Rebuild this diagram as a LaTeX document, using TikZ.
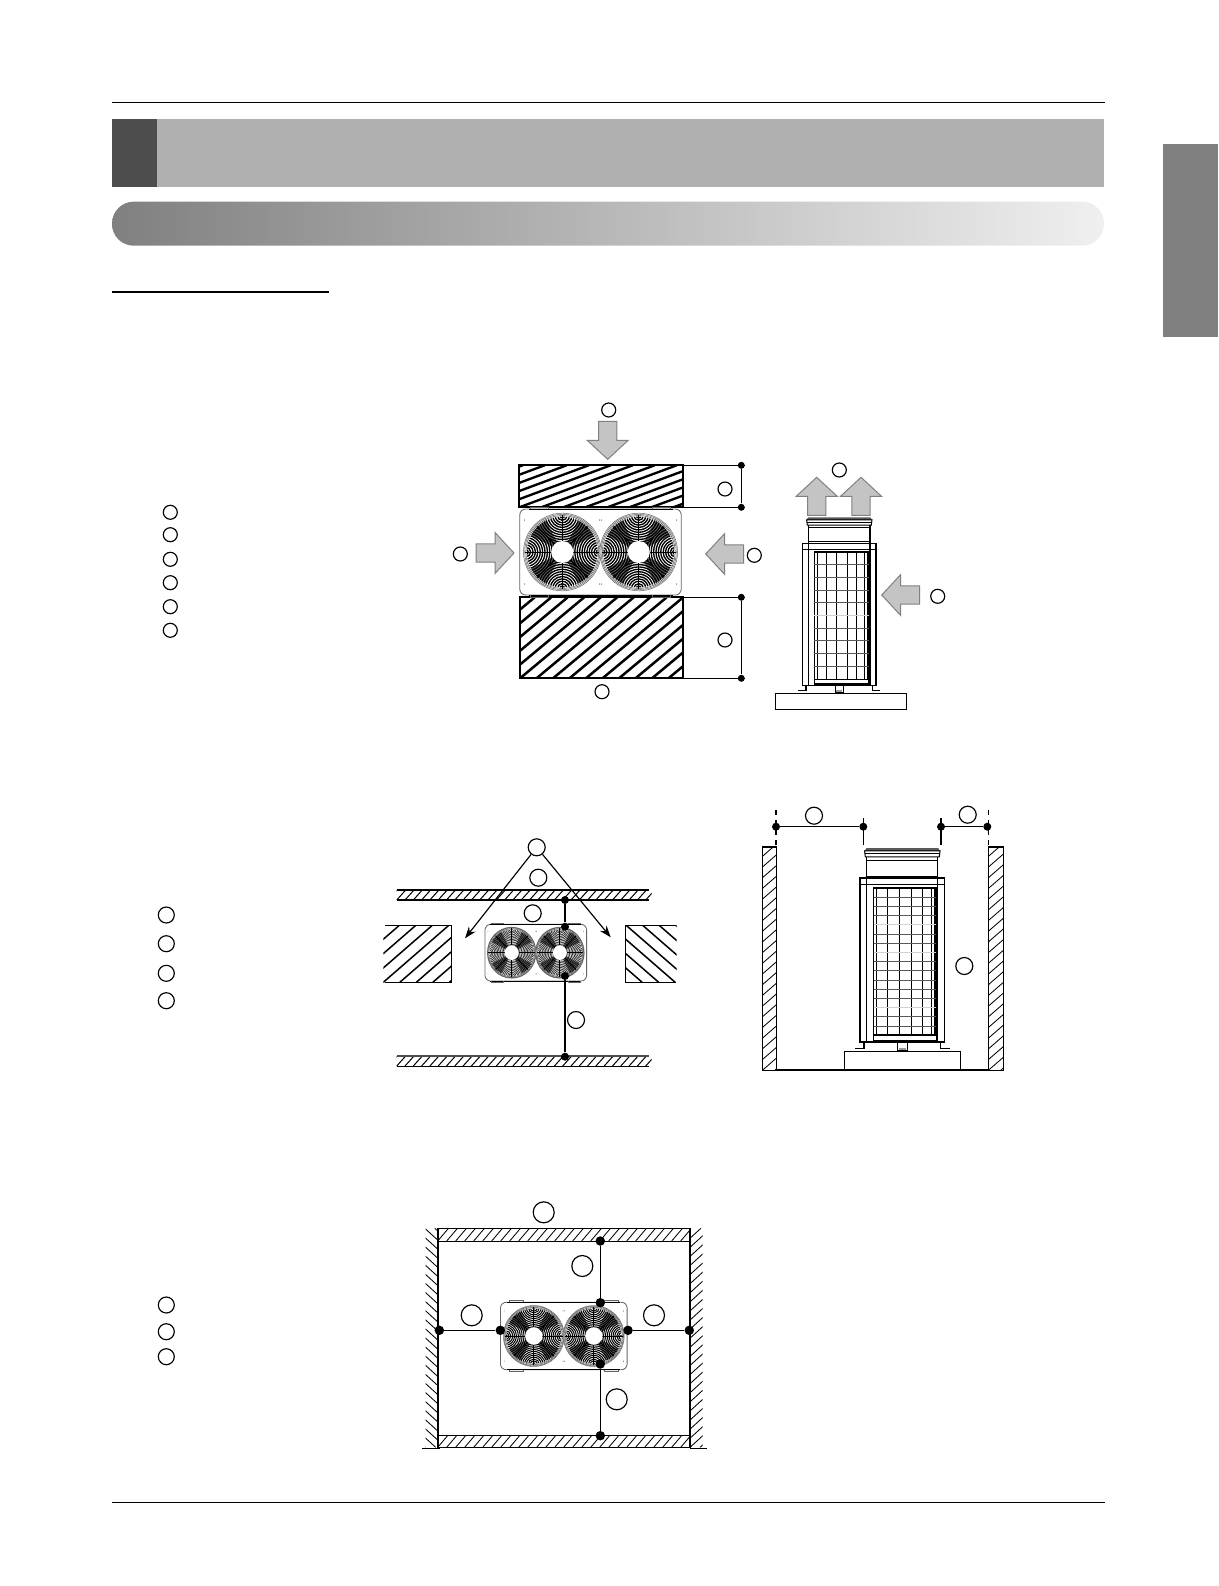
\documentclass[tikz,border=0pt]{standalone}
\usepackage{tikz}
\usetikzlibrary{arrows.meta}

\definecolor{headdark}{HTML}{4D4D4D}
\definecolor{headband}{HTML}{B0B0B0}
\definecolor{tabgrey}{HTML}{808080}
\definecolor{airgrey}{HTML}{C4C4C4}

\tikzset{
  callout/.style={circle, draw=black, line width=.7pt, fill=white, inner sep=0pt, minimum size=#1*.6pt},
  dimdot/.style={circle, fill=black, inner sep=0pt, minimum size=#1*.6pt},
  dimline/.style={line width=.7pt},
  thickwall/.style={line width=1.2pt},
  fanpen/.style={line width=.8pt},
  gridpen/.style={line width=.55pt},
  pics/blockarrow/.style={code={
    \draw[fill=airgrey, draw=tabgrey, line width=.6pt] (0,0) -- (-19,20.5) -- (-19,9.2) -- (-38,9.2) -- (-38,-9.2) -- (-19,-9.2) -- (-19,-20.5) -- cycle;
  }},
  pics/fanwheel/.style={code={
    \fill[white] (0,0) circle (38.8);
    \draw[black!60, line width=.3pt] (0,0) circle (38.8) (0,0) circle (37.6);
    \draw[black!70, line width=.3pt] (0,0) circle (36.4);
    \foreach \a in {0,90,180,270} {
      \begin{scope}[rotate=\a]
        \clip (0,0) circle (35.4);
        \clip (0,0) -- (45:60) -- (-45:60) -- cycle;
        \foreach \r in {2.4,4.8,...,48} {
          \draw[fanpen] (36.5,0) circle (\r);
        }
        \fill[black, opacity=.6] (0,0) -- (45:40) -- (28:40) -- cycle;
        \fill[black, opacity=.6] (0,0) -- (-45:40) -- (-28:40) -- cycle;
      \end{scope}
    }
    \foreach \a in {0,90,180,270} {
      \draw[line width=.6pt] (\a:11) -- (\a:37);
      \draw[line width=.6pt] (\a+45:11) -- (\a+45:36);
    }
    \fill[white] (0,0) circle (11);
  }},
  pics/fanunit/.style={code={
    \draw[fill=white, draw=black!60, line width=.5pt, rounded corners=3.5pt] (-80.7,-43) rectangle (80.7,43);
    \draw[line width=.6pt] (-72,-43) -- (72,-43) (-72,43) -- (72,43);
    \foreach \s in {-1,1} {
      \draw[black!60, line width=.4pt] (\s*52,-43) -- (\s*52,-45) -- (\s*70,-45) -- (\s*70,-43);
      \draw[black!60, line width=.4pt] (\s*52,43) -- (\s*52,45) -- (\s*70,45) -- (\s*70,43);
      \foreach \t in {-32,32} {
        \fill (\s*76,\t) circle (.5);
        \fill (\s*1,\t) circle (.5);
      }
    }
    \pic[transform shape] at (-38.2,0) {fanwheel};
    \pic[transform shape] at (38.2,0) {fanwheel};
  }},
  pics/sideunit/.style 2 args={code={
    \fill[black!65] (-31,-176) -- (31,-176) -- (32.7,-173.5) -- (-32.7,-173.5) -- cycle;
    \draw[line width=.6pt] (-32.7,-173.5) -- (32.7,-173.5) -- (32,-168.3) -- (-32,-168.3) -- cycle;
    \draw[line width=.5pt] (-32.5,-171) -- (32.5,-171);
    \draw[line width=.7pt] (-31,-168.3) -- (-31,-150.6) (30.7,-168.3) -- (30.7,-150.6);
    \draw[line width=.5pt] (-31,-165.5) -- (30.7,-165.5);
    \draw[line width=.8pt] (-31,-151.5) -- (30.7,-151.5);
    \draw[line width=.8pt] (-36.7,-150) rectangle (36.7,-8);
    \draw[line width=.6pt] (-36.7,-144.3) -- (36.7,-144.3);
    \draw[line width=.7pt] (-31,-150) -- (-31,-8) (30.7,-150) -- (30.7,-8);
    \draw[line width=.8pt] (-24.9,-141.4) rectangle (29.3,-14);
    \draw[line width=.7pt] (-24.9,-9.3) -- (29.3,-9.3);
    \draw[line width=.7pt] (-24.9,-14) -- (-24.9,-9.3) (29.3,-14) -- (29.3,-9.3);
    \foreach \v in {-22,-12.9,-2.6,8,17.5,25.3,28} {
      \draw[gridpen] (\v,-141.4) -- (\v,-14);
    }
    \pgfmathtruncatemacro{\gridrows}{125/#1}
    \foreach \k in {1,...,\gridrows} {
      \draw[black!65, line width=.4pt] (-24.9,{-141.4+#1*\k}) -- (29.3,{-141.4+#1*\k});
    }
    \foreach \k in {#2} {
      \draw[black!18, line width=.8pt] (-24.9,{-141.4+#1*\k}) -- (29.3,{-141.4+#1*\k});
    }
    \draw[line width=.9pt] (-33.2,-8) -- (-33.2,-2.6) -- (-41,-2.6);
    \draw[line width=.9pt] (33.2,-8) -- (33.2,-2.6) -- (41,-2.6);
    \draw[line width=.5pt] (-4.3,-8) -- (-4.3,-1) -- (4.3,-1) -- (4.3,-8);
    \fill[black!40] (-3,-3) rectangle (3,-1);
  }},
}

\newcommand{\hatchbox}[7]{
  \begin{scope}
    \clip (#1,#2) rectangle (#3,#4);
    \pgfmathtruncatemacro{\hatchmax}{ceil((#3-#1+abs(#5)*(#4-#2))/#6)}
    \foreach \k in {-\hatchmax,...,\hatchmax} {
      \pgfmathsetmacro{\hatchlow}{#1+\k*#6}
      \pgfmathsetmacro{\hatchtop}{\hatchlow+#5*(#4-#2)}
      \draw[line width=#7] (\hatchlow,#4) -- (\hatchtop,#2);
    }
  \end{scope}
}

\begin{document}
\begin{tikzpicture}[x=.6pt, y=-.6pt]
  \useasboundingbox (0,0) rectangle (1218,1586);

  \draw[line width=.6pt] (112,102.3) -- (1105,102.3);
  \fill[headband] (157,119) rectangle (1104,186.7);
  \fill[headdark] (112,119) rectangle (157,186.7);
  \shade[left color=tabgrey, right color=black!6, rounded corners=13pt] (112,201.7) rectangle (1104,245.7);
  \draw[line width=.7pt] (112,292) -- (329,292);
  \fill[tabgrey] (1163,144) rectangle (1218,337.3);
  \draw[line width=.6pt] (112,1502) -- (1105,1502);

  \node[callout=14] (legendA1) at (170.3,512.3) {};
  \node[callout=14] (legendA2) at (170.3,534.7) {};
  \node[callout=14] (legendA3) at (170.3,559.3) {};
  \node[callout=14] (legendA4) at (170.3,582.7) {};
  \node[callout=14] (legendA5) at (170.3,606.7) {};
  \node[callout=14] (legendA6) at (170.3,630.3) {};
  \node[callout=16] (legendB1) at (166.3,915) {};
  \node[callout=16] (legendB2) at (166.3,943.7) {};
  \node[callout=16] (legendB3) at (166.3,973.3) {};
  \node[callout=16] (legendB4) at (166.3,1000.7) {};
  \node[callout=16] (legendC1) at (166.3,1305) {};
  \node[callout=16] (legendC2) at (166.3,1331.7) {};
  \node[callout=16] (legendC3) at (166.3,1356.7) {};

  \hatchbox{519.3}{465.3}{683.3}{507.3}{2.7}{22}{1.4pt}
  \draw[thickwall] (519.3,465.3) rectangle (683.3,507.3);
  \hatchbox{520}{597.3}{683.3}{678.3}{1.2}{16.5}{1.5pt}
  \draw[thickwall] (520,597.3) rectangle (683.3,678.3);
  \pic at (600.5,552) {fanunit};
  \coordinate (cornerA) at (683.3,465.3);
  \coordinate (cornerB) at (683.3,507.3);
  \coordinate (cornerC) at (683.3,597.3);
  \coordinate (cornerD) at (683.3,678.3);
  \node[dimdot=7] (dotA) at (741.3,465.3) {};
  \node[dimdot=7] (dotB) at (741.3,507.3) {};
  \node[dimdot=7] (dotC) at (741.3,597.3) {};
  \node[dimdot=7] (dotD) at (741.3,678.3) {};
  \draw[dimline] (cornerA) -- (dotA.center) -- ++(4,0);
  \draw[dimline] (cornerB) -- (dotB.center) -- ++(4,0);
  \draw[dimline] (cornerC) -- (dotC.center) -- ++(4,0);
  \draw[dimline] (cornerD) -- (dotD.center) -- ++(4,0);
  \draw[dimline] (dotA) -- (dotB);
  \draw[dimline] (dotC) -- (dotD);
  \pic[rotate=-90] at (607.7,459.3) {blockarrow};
  \pic at (514,553) {blockarrow};
  \pic[rotate=180] at (705.7,554) {blockarrow};
  \pic[rotate=180] at (881.7,595) {blockarrow};
  \pic[rotate=90] at (816.7,477.3) {blockarrow};
  \pic[rotate=90] at (861,477.3) {blockarrow};
  \node[callout=14] (frontN) at (608.7,410) {};
  \node[callout=14] (frontW) at (460.3,554) {};
  \node[callout=14] (frontE) at (754.3,555.3) {};
  \node[callout=14] (frontS) at (602,691.7) {};
  \node[callout=14] (gapTop) at (725,489) {};
  \node[callout=14] (gapBottom) at (725,640) {};
  \node[callout=14] (sideTop) at (839.3,470) {};
  \node[callout=14] (sideRight) at (937.7,596.3) {};
  \draw[line width=.7pt] (775.3,693.3) rectangle (906.7,709.3);
  \pic at (839.3,693.3) {sideunit={12.7}{5}};

  \hatchbox{396.7}{890}{651.5}{900}{.9}{8.3}{.6pt}
  \draw[thickwall] (396.7,890) -- (649,890);
  \draw[thickwall] (396.7,900) -- (649,900);
  \hatchbox{396.7}{1056}{651.5}{1066}{.9}{8.3}{.6pt}
  \draw[line width=.9pt, black!70] (396.7,1056) -- (649,1056);
  \draw[line width=.5pt] (396.7,1066) -- (649,1066);
  \hatchbox{383.3}{925.3}{451.7}{982.3}{1.15}{16.5}{.9pt}
  \draw[line width=.6pt] (385,925.3) -- (451.7,925.3) -- (451.7,982.3) -- (385,982.3);
  \hatchbox{625.7}{925.3}{676.7}{982.3}{-1.15}{16.5}{.9pt}
  \draw[line width=.6pt] (676,925.3) -- (625.7,925.3) -- (625.7,982.3) -- (676,982.3);
  \pic[xscale=.63, yscale=.66, fanpen/.style={line width=.55pt, black!75}] at (535.8,952.7) {fanunit};
  \node[callout=17] (ventTip) at (536.7,847.3) {};
  \node[callout=17] (wallGap) at (538.3,877.7) {};
  \node[callout=17] (rearGap) at (532.7,913.3) {};
  \node[callout=17] (frontGap) at (576,1020) {};
  \coordinate (ventL) at (465,938.3);
  \coordinate (ventR) at (610.7,937.3);
  \draw[line width=.7pt, -{Stealth[length=7pt, width=5pt]}] (ventTip) -- (ventL);
  \draw[line width=.7pt, -{Stealth[length=7pt, width=5pt]}] (ventTip) -- (ventR);
  \node[dimdot=8] (planA) at (565,900) {};
  \node[dimdot=8] (planB) at (565,926.7) {};
  \node[dimdot=8] (planC) at (565,976) {};
  \node[dimdot=8] (planD) at (565,1056.7) {};
  \draw[dimline] (planA) -- (planB);
  \draw[dimline] (planC) -- (planD);

  \hatchbox{762.7}{846.7}{776.3}{1070}{1.15}{12.3}{.5pt}
  \draw[line width=.6pt] (762.7,846.7) rectangle (776.3,1070);
  \draw[thickwall] (762.7,846.7) -- (776.3,846.7);
  \hatchbox{988.7}{846.7}{1003.3}{1070}{1.15}{12.3}{.5pt}
  \draw[line width=.6pt] (988.7,846.7) rectangle (1003.3,1070);
  \draw[thickwall] (988.7,846.7) -- (1003.3,846.7);
  \draw[line width=.9pt] (776.3,1070) -- (988.7,1070);
  \draw[line width=.7pt] (844.7,1070) -- (844.7,1051.3) -- (960.7,1051.3) -- (960.7,1070);
  \pic[scale=1.155] at (902.3,1051.3) {sideunit={7.96}{4,7,13}};
  \node[dimdot=8] (clearA) at (776,826.7) {};
  \node[dimdot=8] (clearB) at (863.3,826.7) {};
  \node[dimdot=8] (clearC) at (941,826.7) {};
  \node[dimdot=8] (clearD) at (987.3,826.7) {};
  \coordinate (clearAup) at (776,810);
  \coordinate (clearAdown) at (776,845);
  \coordinate (clearBup) at (863.3,818);
  \coordinate (clearBdown) at (863.3,845);
  \coordinate (clearCup) at (941,818);
  \coordinate (clearCdown) at (941,845);
  \coordinate (clearDup) at (988.7,810);
  \coordinate (clearDdown) at (988.7,845);
  \draw[dimline] (clearA) -- (clearB);
  \draw[dimline] (clearC) -- (clearD);
  \draw[dimline, dashed] (clearAup) -- (clearAdown);
  \draw[dimline] (clearBup) -- (clearBdown);
  \draw[dimline] (clearCup) -- (clearCdown);
  \draw[line width=.9pt, dashed] (clearDup) -- (clearDdown);
  \node[callout=17] (clearLeft) at (814,815.7) {};
  \node[callout=17] (clearRight) at (967.7,814.7) {};
  \node[callout=17] (clearSide) at (964.3,966) {};

  \hatchbox{437.7}{1228.3}{690}{1241}{.85}{9}{.5pt}
  \draw[line width=.6pt] (437.7,1228.3) rectangle (690,1241);
  \hatchbox{437.7}{1435}{690}{1447.3}{.85}{9}{.5pt}
  \draw[line width=.6pt] (437.7,1435) rectangle (690,1447.3);
  \hatchbox{425.7}{1228.3}{438.3}{1447.3}{-1.1}{10}{.5pt}
  \draw[thickwall] (438.3,1228.3) -- (438.3,1448.3);
  \hatchbox{690}{1228.3}{702.7}{1447.3}{1.1}{10}{.5pt}
  \draw[thickwall] (690,1228.3) -- (690,1448.3);
  \draw[line width=.6pt] (421.7,1448.3) -- (440,1448.3);
  \draw[line width=.6pt] (690,1448.3) -- (706.7,1448.3);
  \pic[scale=.785, fanpen/.style={line width=.62pt}] at (563.8,1336) {fanunit};
  \node[dimdot=9.5] (roomN1) at (600.3,1241) {};
  \node[dimdot=9.5] (roomN2) at (600.3,1302.7) {};
  \node[dimdot=9.5] (roomS1) at (600.3,1364) {};
  \node[dimdot=9.5] (roomS2) at (600.3,1435.7) {};
  \node[dimdot=9.5] (roomW1) at (439.3,1330.3) {};
  \node[dimdot=9.5] (roomW2) at (500.3,1330.3) {};
  \node[dimdot=9.5] (roomE1) at (628,1330.3) {};
  \node[dimdot=9.5] (roomE2) at (689.3,1330.3) {};
  \draw[dimline] (roomN1) -- (roomN2);
  \draw[dimline] (roomS1) -- (roomS2);
  \draw[dimline] (roomW1) -- (roomW2);
  \draw[dimline] (roomE1) -- (roomE2);
  \node[callout=21] (roomTop) at (543.7,1212.3) {};
  \node[callout=21] (roomNorth) at (582.3,1266) {};
  \node[callout=21] (roomWest) at (471.7,1315.3) {};
  \node[callout=21] (roomEast) at (654,1315.3) {};
  \node[callout=21] (roomSouth) at (616.7,1399.3) {};
\end{tikzpicture}
\end{document}
